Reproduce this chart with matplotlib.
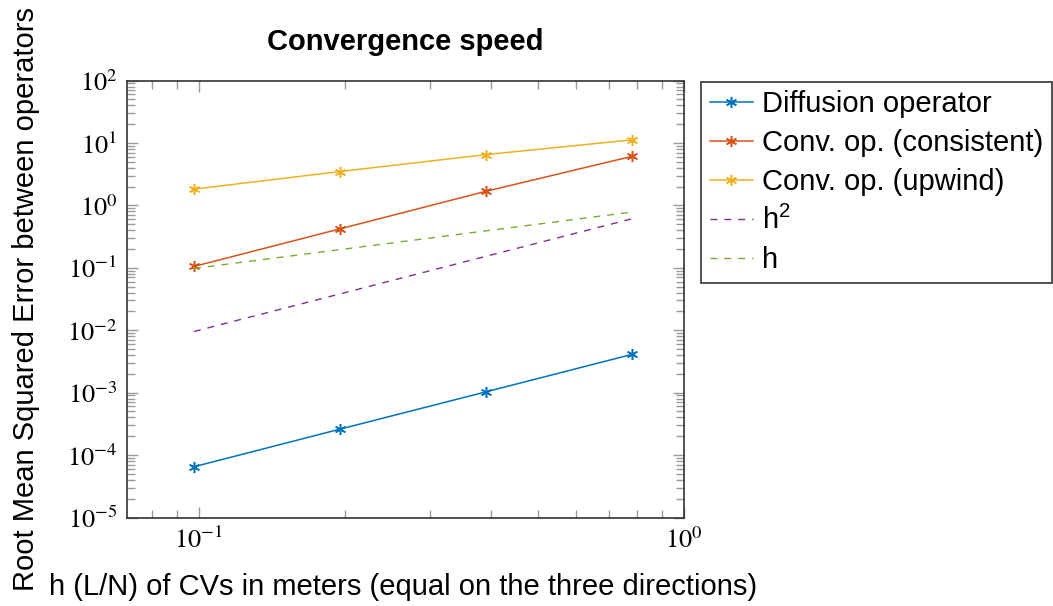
import math
import matplotlib
matplotlib.use('Agg')
import matplotlib.pyplot as plt
from matplotlib.ticker import LogLocator, FuncFormatter, NullFormatter

# mesh size h = L/N for the four grids
h = [0.0977, 0.1953, 0.3906, 0.7813]

# RMS error of each operator
err_diffusion = [6.5e-5, 2.6e-4, 1.03e-3, 4.1e-3]
err_conv_consistent = [0.105, 0.42, 1.68, 6.1]
err_conv_upwind = [1.82, 3.48, 6.5, 11.2]

# reference slopes
ref_h2 = [0.00954, 0.0381, 0.1526, 0.6104]
ref_h = [0.0977, 0.1953, 0.3906, 0.7813]

labels = ['Diffusion operator', 'Conv. op. (consistent)', 'Conv. op. (upwind)',
          r'h$^{\mathdefault{2}}$', 'h']

plt.rcParams['font.family'] = ['Liberation Sans', 'DejaVu Sans']
plt.rcParams['mathtext.fontset'] = 'stix'

fig = plt.figure(figsize=(10.53, 6.06), dpi=100)
ax = fig.add_axes([127 / 1053, 88.5 / 606, 557 / 1053, 437 / 606])

star = (6, 2, 0)
ax.plot(h, err_diffusion, color='#0072BD', lw=1.1, marker=star, ms=8, mew=1.1, label=labels[0])
ax.plot(h, err_conv_consistent, color='#D95319', lw=1.1, marker=star, ms=8, mew=1.1, label=labels[1])
ax.plot(h, err_conv_upwind, color='#EDB120', lw=1.1, marker=star, ms=8, mew=1.1, label=labels[2])
ax.plot(h, ref_h2, color='#7E2F8E', lw=1.0, dashes=(5, 5), label=labels[3])
ax.plot(h, ref_h, color='#77AC30', lw=1.0, dashes=(5, 5), label=labels[4])

ax.set_xscale('log')
ax.set_yscale('log')
ax.set_xlim(0.0711, 1.0)
ax.set_ylim(1e-5, 1e2)

ax.xaxis.set_major_locator(LogLocator(base=10, numticks=10))
ax.yaxis.set_major_locator(LogLocator(base=10, numticks=10))
ax.xaxis.set_minor_locator(LogLocator(base=10, subs=range(2, 10), numticks=20))
ax.yaxis.set_minor_locator(LogLocator(base=10, subs=range(2, 10), numticks=20))
fmt = FuncFormatter(lambda v, pos: r'$10^{%d}$' % round(math.log10(v)))
ax.xaxis.set_major_formatter(fmt)
ax.yaxis.set_major_formatter(fmt)
ax.xaxis.set_minor_formatter(NullFormatter())
ax.yaxis.set_minor_formatter(NullFormatter())

ax.tick_params(which='both', direction='in', top=True, right=True, color='#9a9a9a', width=1.0)
ax.tick_params(which='major', length=8, labelsize=19, pad=7)
ax.tick_params(which='minor', length=5.5)
for s in ax.spines.values():
    s.set_color('#333333')
    s.set_linewidth(1.2)

ax.set_xlabel('h (L/N) of CVs in meters (equal on the three directions)', fontsize=21)
ax.set_ylabel('Root Mean Squared Error between operators', fontsize=21)
ax.xaxis.set_label_coords(0.496, -0.127)
ax.yaxis.set_label_coords(-0.156, 0.501)
ax.text(0.5, 1.088, 'Convergence speed', transform=ax.transAxes, ha='center', va='center',
        fontsize=21, fontweight='bold')

leg = ax.legend(loc='upper left', bbox_to_anchor=(701 / 1053, 1 - 81.7 / 606),
                bbox_transform=fig.transFigure, fontsize=21, frameon=True, fancybox=False,
                edgecolor='#333333', framealpha=1, borderaxespad=0, borderpad=0.3,
                handlelength=1.48, handletextpad=0.31, labelspacing=0.37)
leg.get_frame().set_linewidth(1.2)

fig.savefig('out.png', dpi=100)
